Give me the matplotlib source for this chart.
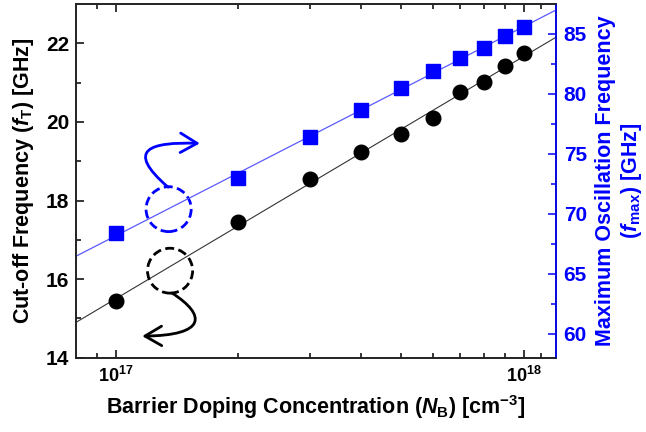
import numpy as np
import matplotlib
matplotlib.use('Agg')
import matplotlib.pyplot as plt
from matplotlib.patches import Ellipse, FancyArrowPatch
from matplotlib.path import Path

plt.rcParams['font.family'] = 'Liberation Sans'
plt.rcParams['font.weight'] = 'bold'
plt.rcParams['axes.labelweight'] = 'bold'
plt.rcParams['mathtext.fontset'] = 'custom'
plt.rcParams['mathtext.rm'] = 'Liberation Sans:bold'
plt.rcParams['mathtext.bf'] = 'Liberation Sans:bold'
plt.rcParams['mathtext.it'] = 'Liberation Sans:bold:italic'

# barrier doping (cm^-3) and the two figures of merit
doping = [1e17, 2e17, 3e17, 4e17, 5e17, 6e17, 7e17, 8e17, 9e17, 1e18]
f_t = [15.44, 17.45, 18.54, 19.23, 19.70, 20.10, 20.77, 21.02, 21.43, 21.76]
f_max = [68.4, 73.0, 76.4, 78.7, 80.5, 81.9, 83.0, 83.8, 84.8, 85.6]

xlims = (8e16, 1.2e18)
blue = '#0000ff'

fig = plt.figure(figsize=(6.46, 4.32), dpi=100)
ax = fig.add_axes([0.1176, 0.172, 0.7431, 0.8187])
ax2 = ax.twinx()

# log-linear fits drawn across the full x range
xs = np.logspace(np.log10(xlims[0]), np.log10(xlims[1]), 60)
p_t = np.polyfit(np.log10(doping), f_t, 1)
p_m = np.polyfit(np.log10(doping), f_max, 1)
ax.plot(xs, np.polyval(p_t, np.log10(xs)), color='#333333', lw=0.8, zorder=2)
ax2.plot(xs, np.polyval(p_m, np.log10(xs)), color='#5a5aff', lw=0.9, zorder=2)

ax.plot(doping, f_t, 'o', color='black', ms=10.5, zorder=3)
ax2.plot(doping, f_max, 's', color=blue, ms=9.5, zorder=3)

ax.set_xscale('log')
ax.set_xlim(*xlims)
ax.set_ylim(14, 23)
ax2.set_ylim(58, 87.5)

ax.set_xticks([1e17, 1e18])
ax.set_xticklabels([r'$10^{17}$', r'$10^{18}$'])
ax.set_xticks([9e16] + [k * 1e17 for k in range(2, 10)] + [1.1e18], minor=True)
ax.set_xticklabels([], minor=True)
ax.set_yticks([14, 16, 18, 20, 22])
ax.set_yticks(np.arange(15, 23, 2), minor=True)
ax2.set_yticks([60, 65, 70, 75, 80, 85])
ax2.set_yticks(np.arange(62.5, 87.5, 5), minor=True)

ax.tick_params(axis='both', which='both', direction='in', top=True, right=False,
               labelsize=15, pad=5, width=1.1)
ax.tick_params(axis='both', which='major', length=6)
ax.tick_params(axis='both', which='minor', length=3.5)
ax.tick_params(axis='x', labelsize=13, pad=6)
ax2.tick_params(axis='y', which='both', direction='in', colors=blue,
                labelsize=15, pad=5.5, width=1.1)
ax2.tick_params(axis='y', which='major', length=6)
ax2.tick_params(axis='y', which='minor', length=3.5)

for sp in ax.spines.values():
    sp.set_linewidth(1.2)
    sp.set_color('#222222')
for sp in ax2.spines.values():
    sp.set_linewidth(1.2)
    sp.set_color('#222222')
ax2.spines['right'].set_color(blue)

ax.set_xlabel(r'Barrier Doping Concentration ($\it{N}_\mathrm{B}$) [cm$^{\mathrm{-3}}$]',
              fontsize=15.5, labelpad=5)
ax.set_ylabel(r'Cut-off Frequency ($\it{f}_\mathrm{T}$) [GHz]', fontsize=15.5, labelpad=7)
ax2.set_ylabel('Maximum Oscillation Frequency\n' + r'($\it{f}_\mathrm{max}$) [GHz]',
               fontsize=15.5, color=blue, labelpad=6, linespacing=1.15)

# dashed circles marking which curve belongs to which axis
ax.add_patch(Ellipse((0.193, 0.420), 0.094, 0.127, transform=ax.transAxes,
                     fill=False, ec=blue, lw=2, ls=(0, (3.2, 1.6)), zorder=4))
ax.add_patch(Ellipse((0.196, 0.246), 0.094, 0.127, transform=ax.transAxes,
                     fill=False, ec='black', lw=2, ls=(0, (3.2, 1.6)), zorder=4))

codes = [Path.MOVETO, Path.CURVE4, Path.CURVE4, Path.CURVE4]
arrow_blue = Path([(0.192, 0.482), (0.100, 0.590), (0.155, 0.610), (0.258, 0.606)], codes)
arrow_black = Path([(0.200, 0.183), (0.272, 0.120), (0.272, 0.063), (0.138, 0.061)], codes)
for pth, col in [(arrow_blue, blue), (arrow_black, 'black')]:
    ax.add_patch(FancyArrowPatch(path=pth, transform=ax.transAxes,
                                 arrowstyle='->,head_length=0.6,head_width=0.35',
                                 mutation_scale=20, color=col, lw=2, zorder=4))

fig.savefig('out.png', dpi=100)
